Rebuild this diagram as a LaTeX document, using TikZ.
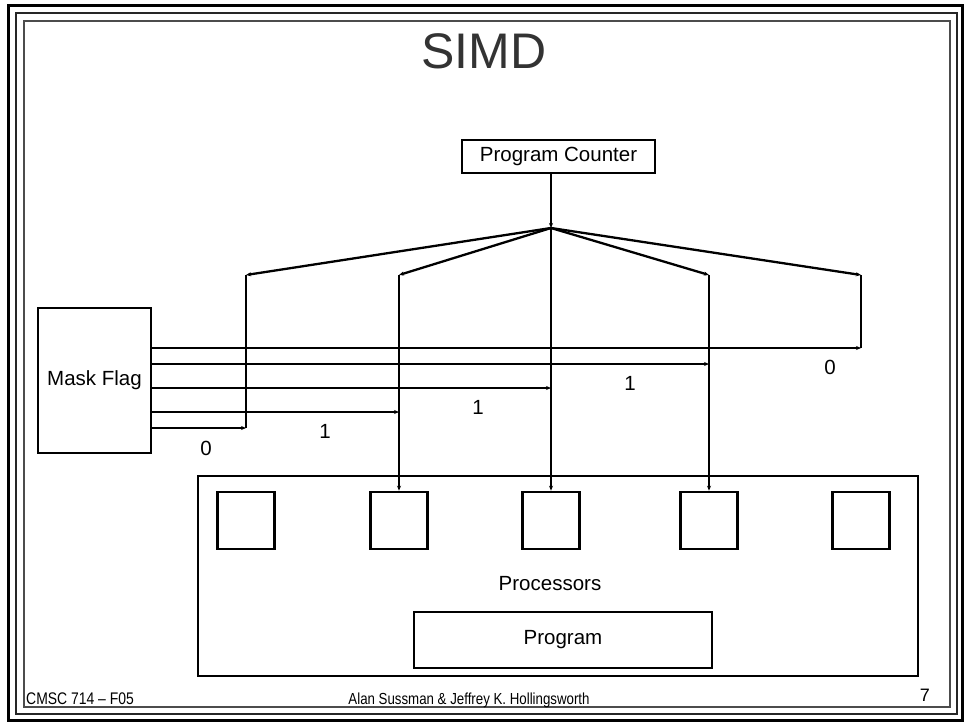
\documentclass[tikz,border=0pt]{standalone}
\usepackage{fontspec}
\setmainfont{Liberation Sans}
\newfontfamily\narrowfont[FakeStretch=0.83]{Liberation Sans}
\usetikzlibrary{arrows.meta}
\tikzset{
  conn/.style={line width=2.3pt},
  arr/.style={line width=2.3pt,-{Stealth[length=5pt,width=4pt]}},
  boxn/.style={draw,line width=2.6pt,rectangle,inner sep=0pt},
  sq/.style={draw,line width=2.6pt,rectangle,minimum width=57pt,minimum height=57pt,inner sep=0pt},
  lbl/.style={inner sep=0pt,font=\fontsize{20.5}{24}\selectfont},
}
\begin{document}
\begin{tikzpicture}[x=1pt,y=-1pt]
\useasboundingbox (0,0) rectangle (969,723);
\fill[white] (0,0) rectangle (969,723);
% frame
\draw[line width=3pt,black] (8,5) rectangle (962,720);
\draw[line width=2pt,black!85] (16,13) rectangle (957,714);
\draw[line width=1.6pt,black!70] (24,21) rectangle (950,707);
% title
\node[inner sep=0pt,text=black!80,font=\fontsize{50}{56}\selectfont] (title) at (484,51) {SIMD};
% program counter
\node[boxn,minimum width=193pt,minimum height=33pt,lbl] (pc) at (558.5,156.5) {Program Counter};
\coordinate (hub) at (551,228);
\coordinate (c1) at (246,275);
\coordinate (c2) at (399,275);
\coordinate (c4) at (709,275);
\coordinate (c5) at (861,275);
\coordinate (b1) at (246,428);
\coordinate (b5) at (861,348);
\coordinate (m2) at (709,364);
\coordinate (m3) at (551,388);
\coordinate (m4) at (399,412);
% processors
\node[boxn,minimum width=720pt,minimum height=200pt] (procs) at (558,576) {};
\node[sq] (p1) at (246,520.5) {};
\node[sq] (p2) at (399,520.5) {};
\node[sq] (p3) at (551,520.5) {};
\node[sq] (p4) at (709,520.5) {};
\node[sq] (p5) at (861,520.5) {};
\node[lbl] (plabel) at (550,584) {Processors};
\node[boxn,minimum width=298pt,minimum height=56pt,lbl] (prog) at (563,640) {Program};
% mask flag
\node[boxn,minimum width=113pt,minimum height=145pt] (mf) at (94.5,380.5) {};
\node[lbl] (mft) at (94.5,380) {Mask Flag};
% fan-out
\draw[arr] (pc.south -| hub) -- (hub);
\draw[arr] (hub) -- (c1);
\draw[arr] (hub) -- (c2);
\draw[arr] (hub) -- (c4);
\draw[arr] (hub) -- (c5);
\draw[arr] (hub) -- (p3.north);
\draw[arr] (c2) -- (p2.north);
\draw[arr] (c4) -- (p4.north);
\draw[conn] (c1) -- (b1);
\draw[conn] (c5) -- (b5);
% mask lines
\draw[arr] (mf.east |- b5) -- (b5);
\draw[arr] (mf.east |- m2) -- (m2);
\draw[arr] (mf.east |- m3) -- (m3);
\draw[arr] (mf.east |- m4) -- (m4);
\draw[arr] (mf.east |- b1) -- (b1);
% labels
\node[lbl] (l5) at (830,367) {0};
\node[lbl] (l4) at (630,383) {1};
\node[lbl] (l3) at (478,407) {1};
\node[lbl] (l2) at (325,431) {1};
\node[lbl] (l1) at (206,448) {0};
% footer
\node[inner sep=0pt,anchor=base west,font=\narrowfont\fontsize{16.8}{18}\selectfont] (f1) at (26,704) {CMSC 714 – F05};
\node[inner sep=0pt,anchor=base,font=\narrowfont\fontsize{16}{18}\selectfont] (f2) at (469,704) {Alan Sussman \& Jeffrey K. Hollingsworth};
\node[inner sep=0pt,anchor=base east,font=\fontsize{18}{20}\selectfont] (f3) at (930,701) {7};
\end{tikzpicture}
\end{document}
